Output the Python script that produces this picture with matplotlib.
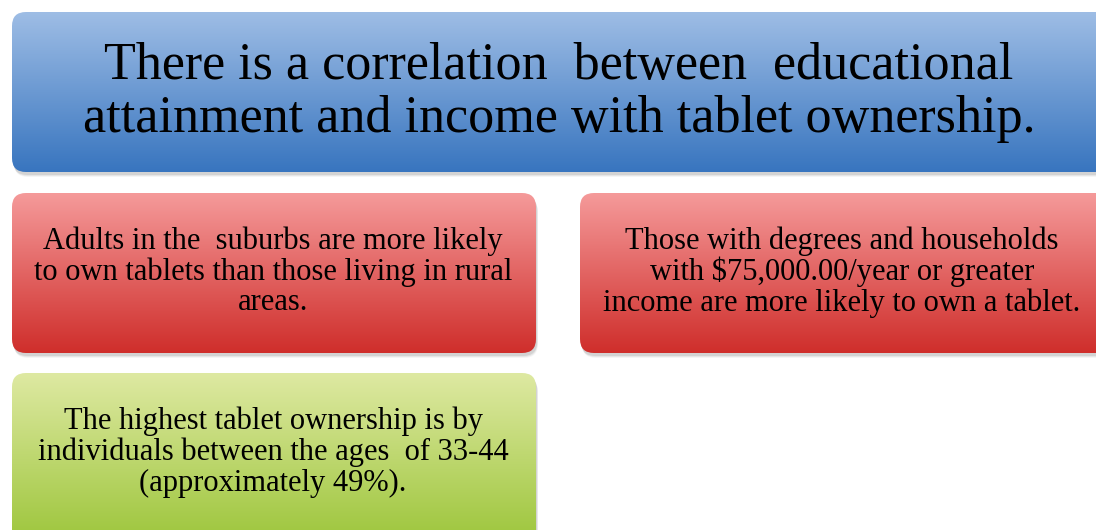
import numpy as np
import matplotlib
matplotlib.use("Agg")
import matplotlib.pyplot as plt
from matplotlib.patches import FancyBboxPatch

title_lines = ["There is a correlation  between  educational",
               "attainment and income with tablet ownership."]
box_texts = [
    ["Adults in the  suburbs are more likely",
     "to own tablets than those living in rural",
     "areas."],
    ["Those with degrees and households",
     "with $75,000.00/year or greater",
     "income are more likely to own a tablet."],
    ["The highest tablet ownership is by",
     "individuals between the ages  of 33-44",
     "(approximately 49%)."],
]
box_colors = [("#F59A9A", "#CF2E2B"), ("#F59A9A", "#CF2E2B"), ("#DEE9A2", "#9CC53A")]
title_colors = ("#9EBDE5", "#3875BF")

W, H = 1096, 530
fig = plt.figure(figsize=(W / 100, H / 100), dpi=100)
ax = fig.add_axes([0, 0, 1, 1])
ax.set_xlim(0, W)
ax.set_ylim(H, 0)
ax.axis("off")

FONT = "Liberation Serif"


def grad_box(x0, y0, x1, y1, c_top, c_bot, r=14):
    for i, a in enumerate([0.04, 0.06, 0.08]):
        off = 5 - i
        ax.add_patch(FancyBboxPatch((x0 + off * 0.4, y0 + off), x1 - x0, y1 - y0,
                                    boxstyle=f"round,pad=0,rounding_size={r}",
                                    fc="black", ec="none", alpha=a, zorder=1))
    patch = FancyBboxPatch((x0, y0), x1 - x0, y1 - y0,
                           boxstyle=f"round,pad=0,rounding_size={r}",
                           fc="none", ec="none", zorder=2)
    ax.add_patch(patch)
    ct = np.array(matplotlib.colors.to_rgb(c_top))
    cb = np.array(matplotlib.colors.to_rgb(c_bot))
    t = np.linspace(0, 1, 256)[:, None]
    img = (ct[None, :] * (1 - t) + cb[None, :] * t)[:, None, :]
    im = ax.imshow(img, extent=(x0, x1, y1, y0), aspect="auto", zorder=2,
                   interpolation="bilinear")
    im.set_clip_path(patch)
    ax.set_xlim(0, W)
    ax.set_ylim(H, 0)


grad_box(12, 12, 1110, 172, *title_colors, r=14)
grad_box(12, 193, 536, 353, *box_colors[0], r=14)
grad_box(580, 193, 1110, 353, *box_colors[1], r=14)
grad_box(12, 373, 536, 545, *box_colors[2], r=14)

for i, line in enumerate(title_lines):
    ax.text(559, 66 + i * 53, line, ha="center", va="center",
            fontsize=37.5, family=FONT, color="black", zorder=5)

centers = [(273, 241), (842, 241), (273, 421)]
for (cx, cy), lines in zip(centers, box_texts):
    for i, line in enumerate(lines):
        ax.text(cx, cy + i * 31, line, ha="center", va="center",
                fontsize=22, family=FONT, color="black", zorder=5)

fig.savefig("out.png", dpi=100)
